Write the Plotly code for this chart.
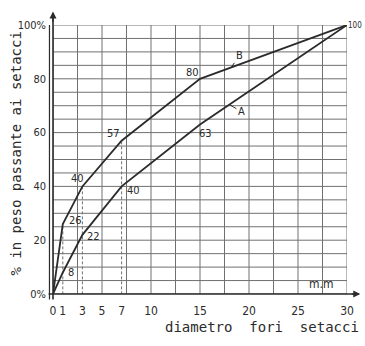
import numpy as np
import plotly.graph_objects as go

# ---- data ----
diam = [0, 1, 3, 7, 15, 30]            # mm
curve_b = [0, 26, 40, 57, 80, 100]     # % passing, curve B
curve_a = [0, 8, 22, 40, 63, 100]      # % passing, curve A
x_tickvals = [0, 1, 3, 5, 7, 10, 15, 20, 25, 30]
x_ticktext = ["0", "1", "3", "5", "7", "10", "15", "20", "25", "30"]
y_tickvals = [0, 20, 40, 60, 80, 100]
y_ticktext = ["0%", "20", "40", "60", "80", "100%"]
grid_x = list(np.arange(0, 30.01, 2.5))
grid_y = list(range(0, 101, 5))
dashed_x = [1, 3, 7]

INK = "#2b2b2b"
GRID = "#707070"
FONT = "DejaVu Sans Condensed, DejaVu Sans, sans-serif"
MONO = "DejaVu Sans Mono, Liberation Mono, monospace"

fig = go.Figure()

# dashed reference verticals up to curve B
for xv in dashed_x:
    yv = curve_b[diam.index(xv)]
    fig.add_trace(go.Scatter(x=[xv, xv], y=[-2, yv], mode="lines",
                             line=dict(color=GRID, width=1, dash="3px,2px"),
                             hoverinfo="skip", showlegend=False, cliponaxis=False))

fig.add_trace(go.Scatter(x=diam, y=curve_b, mode="lines", name="B",
                         line=dict(color=INK, width=1.8), showlegend=False))
fig.add_trace(go.Scatter(x=diam, y=curve_a, mode="lines", name="A",
                         line=dict(color=INK, width=1.8), showlegend=False))

shapes = []
for gx in grid_x:
    shapes.append(dict(type="line", xref="x", yref="y", x0=gx, x1=gx, y0=0, y1=100,
                       line=dict(color=GRID, width=1), layer="below"))
for gy in grid_y:
    shapes.append(dict(type="line", xref="x", yref="y", x0=0, x1=30, y0=gy, y1=gy,
                       line=dict(color=GRID, width=1), layer="below"))
# axes (extended with arrows) and the double left line
shapes.append(dict(type="line", xref="paper", yref="paper", x0=0, x1=0, y0=-0.02, y1=1.045,
                   line=dict(color=INK, width=1.6)))
shapes.append(dict(type="line", xref="paper", yref="paper", x0=-0.012, x1=-0.012, y0=-0.02, y1=1.0,
                   line=dict(color=INK, width=1.2)))
shapes.append(dict(type="line", xref="paper", yref="paper", x0=-0.015, x1=1.04, y0=0, y1=0,
                   line=dict(color=INK, width=1.6)))

annotations = []
# arrowheads
annotations.append(dict(xref="paper", yref="paper", x=0, y=1.05, ax=0, ay=12, text="",
                        showarrow=True, arrowhead=2, arrowsize=1, arrowwidth=1.4, arrowcolor=INK))
annotations.append(dict(xref="paper", yref="paper", x=1.045, y=0, ax=-10, ay=0, text="",
                        showarrow=True, arrowhead=2, arrowsize=1, arrowwidth=1.4, arrowcolor=INK))

# value labels
offs_b = {1: (13, 4), 3: (-5, 8), 7: (-8, 7), 15: (-8, 6)}
offs_a = {1: (8, 0), 3: (11, -2), 7: (12, -4), 15: (5, -9)}
for xv, yv in zip(diam, curve_b):
    if xv in offs_b:
        dx, dy = offs_b[xv]
        annotations.append(dict(x=xv, y=yv, text=str(yv), showarrow=False, xshift=dx, yshift=dy,
                                font=dict(size=11, color=INK, family=FONT)))
for xv, yv in zip(diam, curve_a):
    if xv in offs_a:
        dx, dy = offs_a[xv]
        annotations.append(dict(x=xv, y=yv, text=str(yv), showarrow=False, xshift=dx, yshift=dy,
                                font=dict(size=11, color=INK, family=FONT)))
annotations.append(dict(x=diam[-1], y=curve_b[-1], text=str(curve_b[-1]), showarrow=False,
                        xanchor="left", xshift=0, borderpad=0,
                        font=dict(size=8, color=INK, family=FONT)))

# curve letters with leaders
xb = 18.2
annotations.append(dict(x=xb, y=float(np.interp(xb, diam, curve_b)), text="B", showarrow=True,
                        arrowhead=0, arrowwidth=1, arrowcolor=INK, ax=8, ay=-12,
                        font=dict(size=11, color=INK, family=FONT)))
xa = 18.0
annotations.append(dict(x=xa, y=float(np.interp(xa, diam, curve_a)), text="A", showarrow=True,
                        arrowhead=0, arrowwidth=1, arrowcolor=INK, ax=12, ay=7,
                        font=dict(size=11, color=INK, family=FONT)))

# unit and titles
annotations.append(dict(x=27.3, y=0.5, text="m.m", showarrow=False, xanchor="center",
                        yanchor="bottom", font=dict(size=12, color=INK, family=FONT)))
annotations.append(dict(xref="paper", yref="paper", x=0.711, y=-0.123, xanchor="center",
                        yanchor="middle", text="diametro  fori  setacci",
                        showarrow=False, font=dict(size=14, color=INK, family=MONO)))
annotations.append(dict(xref="paper", yref="paper", x=-0.126, y=0.522, xanchor="center",
                        yanchor="middle", textangle=-90,
                        text="% in peso passante ai setacci", showarrow=False,
                        font=dict(size=14, color=INK, family=MONO)))

fig.update_layout(
    width=365, height=346,
    margin=dict(l=53, r=18, t=25, b=52),
    paper_bgcolor="white", plot_bgcolor="white",
    shapes=shapes, annotations=annotations,
    xaxis=dict(range=[0, 30], tickvals=x_tickvals, ticktext=x_ticktext, showgrid=False,
               zeroline=False, showline=False, ticks="", ticklabelstandoff=8,
               tickfont=dict(size=12, color=INK, family=FONT), fixedrange=True),
    yaxis=dict(range=[0, 100], tickvals=y_tickvals, ticktext=y_ticktext, showgrid=False,
               zeroline=False, showline=False, ticks="", ticklabelstandoff=6,
               tickfont=dict(size=11, color=INK, family=FONT), fixedrange=True),
)

fig.write_html("out.html")
